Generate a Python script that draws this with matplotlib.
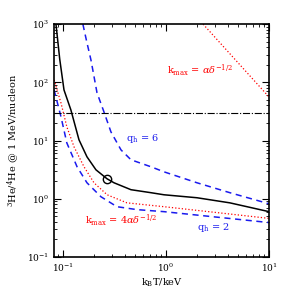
import numpy as np
import matplotlib.pyplot as plt

plt.rcParams['font.family'] = 'DejaVu Serif'
plt.rcParams['mathtext.fontset'] = 'dejavuserif'

# solid black curve
blk_x = [0.0855, 0.093, 0.1023, 0.1193, 0.143, 0.171, 0.209, 0.268, 0.313, 0.457, 0.715, 0.956, 2.0, 4.17, 10.0]
blk_y = [1000, 250, 74, 33.6, 10.3, 5.25, 3.14, 2.2, 1.88, 1.43, 1.27, 1.17, 1.04, 0.85, 0.60]
# circle marker
circ_x = [0.268]
circ_y = [2.2]

# blue dashed q_h = 6
q6_x = [0.156, 0.170, 0.187, 0.214, 0.25, 0.292, 0.366, 0.457, 0.715, 0.956, 2.0, 4.17, 10.0]
q6_y = [1000, 500, 241, 66, 31, 14.1, 6.9, 4.67, 3.54, 2.9, 1.88, 1.27, 0.82]

# blue dashed q_h = 2
q2_x = [0.082, 0.0957, 0.109, 0.137, 0.171, 0.234, 0.334, 0.523, 0.956, 10.0]
q2_y = [74, 25.5, 9.1, 3.54, 1.88, 1.08, 0.73, 0.65, 0.60, 0.39]

# red dotted k_max = 4 alpha delta^-1/2
r4_x = [0.082, 0.0957, 0.109, 0.128, 0.16, 0.20, 0.268, 0.418, 0.956, 10.0]
r4_y = [110, 44, 17.2, 7.8, 3.54, 1.88, 1.17, 0.85, 0.73, 0.46]

# red dotted k_max = alpha delta^-1/2
r1_x = [2.29, 10.0]
r1_y = [1000, 56]

hline_y = 30

fig = plt.figure(figsize=(2.94, 2.94), dpi=100)
ax = fig.add_axes([0.184, 0.126, 0.731, 0.792])

ax.plot(blk_x, blk_y, 'k-', lw=1.1)
ax.plot(circ_x, circ_y, 'o', mfc='none', mec='k', ms=6, mew=1.0)
ax.plot(q6_x, q6_y, '--', color='#1a1aee', lw=1.1, dashes=(4, 3))
ax.plot(q2_x, q2_y, '--', color='#1a1aee', lw=1.1, dashes=(4, 3))
ax.plot(r4_x, r4_y, ':', color='red', lw=0.9)
ax.plot(r1_x, r1_y, ':', color='red', lw=0.9)
ax.axhline(hline_y, color='k', lw=0.8, ls='-.')

ax.set_xscale('log')
ax.set_yscale('log')
ax.set_xlim(0.082, 10)
ax.set_ylim(0.1, 1000)

ax.tick_params(which='both', direction='in', top=True, right=True, labelsize=6.5)
ax.tick_params(which='major', length=5, width=0.8)
ax.tick_params(which='minor', length=2.5, width=0.6)
for s in ax.spines.values():
    s.set_linewidth(1.2)

ax.set_xlabel(r'k$_{\rm B}$T/keV', fontsize=7, labelpad=2)
ax.set_ylabel(r'$^{3}$He/$^{4}$He @ 1 MeV/nucleon', fontsize=7, labelpad=4)

ax.text(0.68, 0.80, r'k$_{\rm max}$ = $\alpha\delta^{-1/2}$', transform=ax.transAxes,
        color='red', fontsize=7, ha='center', va='center')
ax.text(0.41, 0.51, r'q$_{\rm h}$ = 6', transform=ax.transAxes,
        color='#1a1aee', fontsize=7, ha='center', va='center')
ax.text(0.144, 0.155, r'k$_{\rm max}$ = 4$\alpha\delta^{-1/2}$', transform=ax.transAxes,
        color='red', fontsize=7, ha='left', va='center')
ax.text(0.74, 0.125, r'q$_{\rm h}$ = 2', transform=ax.transAxes,
        color='#1a1aee', fontsize=7, ha='center', va='center')

fig.savefig('out.png', dpi=100)
